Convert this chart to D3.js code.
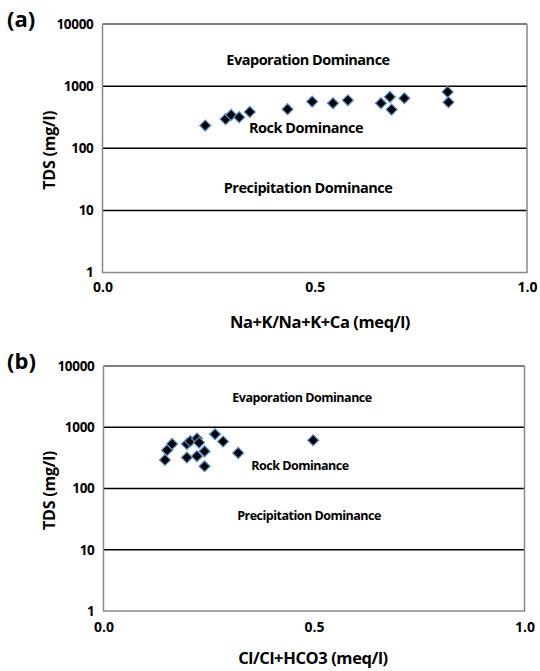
<!DOCTYPE html>
<html>
<head>
<meta charset="utf-8">
<script src="https://cdn.jsdelivr.net/npm/d3@7"></script>
<style>
  body { margin: 0; background: #fff; }
  svg { display: block; font-family: "Open Sans", "Noto Sans", sans-serif; font-weight: 700; }
</style>
</head>
<body>
<svg id="chart" width="540" height="671"></svg>
<script>
// panel (a): Gibbs plot, Na+K/(Na+K+Ca) vs TDS
const ratioA = [0.242, 0.290, 0.303, 0.322, 0.347, 0.436, 0.494, 0.543, 0.578, 0.656, 0.677, 0.681, 0.711, 0.813, 0.815];
const tdsA   = [232, 294, 344, 316, 385, 425, 564, 531, 593, 531, 670, 419, 638, 807, 551];

// panel (b): Cl/(Cl+HCO3) vs TDS
const ratioB = [0.146, 0.151, 0.163, 0.198, 0.206, 0.222, 0.227, 0.240, 0.198, 0.222, 0.240, 0.265, 0.284, 0.320, 0.498];
const tdsB   = [293, 422, 535, 535, 592, 655, 562, 405, 321, 337, 231, 770, 585, 381, 614];

const xTicks = [0, 0.5, 1];
const yTicks = [1, 10, 100, 1000, 10000];
const zones = ["Evaporation Dominance", "Rock Dominance", "Precipitation Dominance"];

const svg = d3.select("#chart");

const panels = [
  { tag: "(a)", xs: ratioA, ys: tdsA, xLabel: "Na+K/Na+K+Ca (meq/l)",
    left: 102.5, right: 527, top: 24, bottom: 272.5, zoneSize: 14.5,
    zoneAt: [[308, 65], [306, 133], [308, 193]], tagY: 27, tickY: 296, labelY: 328, labelX: 320 },
  { tag: "(b)", xs: ratioB, ys: tdsB, xLabel: "Cl/Cl+HCO3 (meq/l)",
    left: 103.5, right: 524.5, top: 366, bottom: 611, zoneSize: 12.5,
    zoneAt: [[302, 402], [300, 470], [309, 520]], tagY: 369, tickY: 636, labelY: 664, labelX: 313 }
];

panels.forEach(p => {
  const x = d3.scaleLinear().domain([0, 1]).range([p.left, p.right]);
  const y = d3.scaleLog().domain([1, 10000]).range([p.bottom, p.top]);
  const g = svg.append("g");

  // gridlines at 10, 100, 1000
  g.selectAll(".grid")
    .data(yTicks.slice(1, -1))
    .enter().append("line")
    .attr("x1", p.left).attr("x2", p.right)
    .attr("y1", d => y(d)).attr("y2", d => y(d))
    .attr("stroke", "#000").attr("stroke-width", 1.5);

  // top border line
  g.append("line")
    .attr("x1", p.left).attr("x2", p.right)
    .attr("y1", y(10000)).attr("y2", y(10000))
    .attr("stroke", "#000").attr("stroke-width", 1.2);

  // frame
  g.append("path")
    .attr("d", `M${p.left},${p.top}V${p.bottom}H${p.right}V${p.top}`)
    .attr("fill", "none").attr("stroke", "#888").attr("stroke-width", 1.5);

  // y axis
  const ya = g.append("g")
    .attr("transform", `translate(${p.left},0)`)
    .call(d3.axisLeft(y).tickValues(yTicks).tickFormat(d3.format("d")).tickSize(0).tickPadding(9));
  ya.select(".domain").remove();
  ya.selectAll("text").attr("font-size", 13.5).attr("font-weight", 700).attr("font-family", "'Open Sans', sans-serif").attr("fill", "#000").attr("letter-spacing", -0.3);

  // x axis
  const xa = g.append("g")
    .attr("transform", `translate(0,${p.tickY - 14})`)
    .call(d3.axisBottom(x).tickValues(xTicks).tickFormat(d3.format(".1f")).tickSize(0).tickPadding(0));
  xa.select(".domain").remove();
  xa.selectAll("text").attr("font-size", 14).attr("font-weight", 700).attr("font-family", "'Open Sans', sans-serif").attr("fill", "#000");

  // zone labels
  g.selectAll(".zone")
    .data(zones)
    .enter().append("text")
    .attr("x", (d, i) => p.zoneAt[i][0])
    .attr("y", (d, i) => p.zoneAt[i][1])
    .attr("text-anchor", "middle")
    .attr("font-size", p.zoneSize)
    .attr("letter-spacing", -0.5)
    .text(d => d);

  // points
  const pts = p.xs.map((v, i) => ({ x: v, y: p.ys[i] }));
  g.selectAll(".pt")
    .data(pts)
    .enter().append("path")
    .attr("transform", d => `translate(${x(d.x)},${y(d.y)})`)
    .attr("d", "M0,-5.5L5.5,0L0,5.5L-5.5,0Z")
    .attr("fill", "#000")
    .attr("stroke", "#5b8fd0")
    .attr("stroke-width", 1.2);

  // panel tag
  g.append("text")
    .attr("x", 7).attr("y", p.tagY)
    .attr("font-size", 22)
    .text(p.tag);

  // axis titles
  g.append("text")
    .attr("x", p.labelX).attr("y", p.labelY)
    .attr("text-anchor", "middle")
    .attr("font-size", 16.5)
    .attr("letter-spacing", -0.4)
    .text(p.xLabel);

  g.append("text")
    .attr("transform", `translate(55,${(p.top + p.bottom) / 2 + 2}) rotate(-90)`)
    .attr("text-anchor", "middle")
    .attr("font-size", 16)
    .attr("letter-spacing", -0.2)
    .text("TDS (mg/l)");
});
</script>
</body>
</html>
